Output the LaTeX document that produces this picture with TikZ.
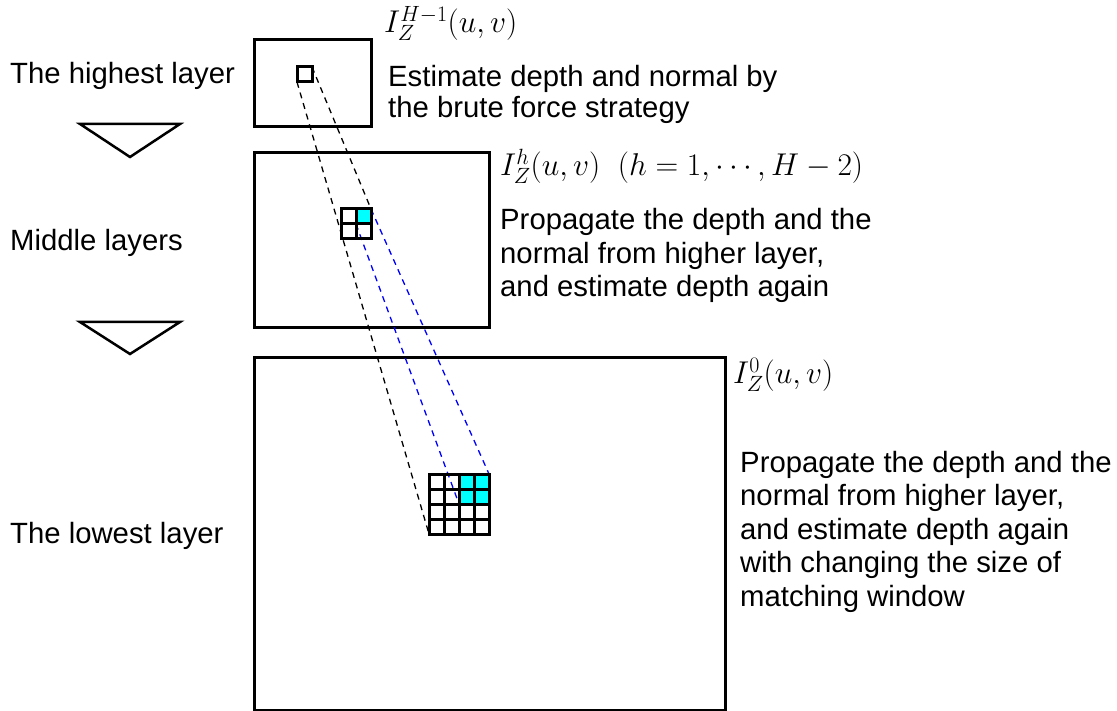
\documentclass[tikz,border=0pt]{standalone}
\usepackage{fix-cm}
\usepackage{fontspec}
\setmainfont{Liberation Sans}
\usetikzlibrary{calc}
\definecolor{cellcyan}{RGB}{0,255,255}
\begin{document}
\begin{tikzpicture}[x=1pt,y=-1pt,
  frame/.style={draw,line width=3pt,inner sep=0pt,anchor=north west},
  lbl/.style={font=\fontsize{29.3}{33.6}\selectfont,inner sep=0pt,anchor=base west,align=left},
  mlbl/.style={font=\fontsize{31.5}{36}\selectfont,inner sep=0pt,anchor=base west},
  cellgrid/.style={draw,line width=3pt},
  proj/.style={dash pattern=on 6pt off 5pt,line width=1.3pt},
  tri/.style={draw,line width=2.5pt,line join=miter}]
\useasboundingbox (0,0) rectangle (1117,711);
% layer frames
\node[frame,minimum width=117pt,minimum height=87pt] (top) at (253,38) {};
\node[frame,minimum width=235pt,minimum height=175pt] (mid) at (253,151) {};
\node[frame,minimum width=471pt,minimum height=353pt] (low) at (253,356) {};
% triangles
\coordinate (t1a) at (80,124); \coordinate (t1b) at (180,124); \coordinate (t1c) at (130,157);
\coordinate (t2a) at (80,322); \coordinate (t2b) at (180,322); \coordinate (t2c) at (130,354);
\draw[tri] (t1a) -- (t1b) -- (t1c) -- cycle;
\draw[tri] (t2a) -- (t2b) -- (t2c) -- cycle;
% cells
\coordinate (tsTL) at (297,67); \coordinate (tsBR) at (312,82);
\coordinate (tsBL) at (297,82); \coordinate (tsTR) at (312,67);
\coordinate (mgTL) at (341,209); \coordinate (mgBR) at (371,239);
\coordinate (mgTR) at (371,209); \coordinate (mcBL) at (356,224);
\coordinate (lgTL) at (429,474); \coordinate (lgBR) at (489,534);
\coordinate (lgTR) at (489,474); \coordinate (lgBL) at (429,534);
\coordinate (lcBL) at (459,504);
\fill[cellcyan] (356,209) rectangle (371,224);
\fill[cellcyan] (459,474) rectangle (489,504);
% projection lines
\draw[proj,black] (tsBL) -- (lgBL);
\draw[proj,black] (tsTR) -- (mgTR);
\draw[proj,blue] (mgTR) -- (lgTR);
\draw[proj,blue] (mcBL) -- (lcBL);
% grids
\draw[cellgrid] (tsTL) rectangle (tsBR);
\draw[cellgrid] (mgTL) rectangle (mgBR);
\draw[cellgrid] ($(mgTL)+(15,0)$) -- ($(mgTL)+(15,30)$);
\draw[cellgrid] ($(mgTL)+(0,15)$) -- ($(mgTL)+(30,15)$);
\draw[cellgrid] (lgTL) rectangle (lgBR);
\foreach \k in {15,30,45}{
  \draw[cellgrid] ($(lgTL)+(\k,0)$) -- ($(lgTL)+(\k,60)$);
  \draw[cellgrid] ($(lgTL)+(0,\k)$) -- ($(lgTL)+(60,\k)$);
}
% labels
\node[lbl] (lh) at (10,84) {The highest layer};
\node[lbl] (lm) at (10,251) {Middle layers};
\node[lbl] (ll) at (10,543) {The lowest layer};
\node[lbl,font=\fontsize{29.3}{31.5}\selectfont] (dh) at (388,118) {Estimate depth and normal by\\the brute force strategy};
\node[lbl] (dm) at (500,297) {Propagate the depth and the\\normal from higher layer,\\and estimate depth again};
\node[lbl] (dl) at (740,606.5) {Propagate the depth and the\\normal from higher layer,\\and estimate depth again\\with changing the size of\\matching window};
\node[mlbl] (mh) at (384,33) {$I_Z^{H-1}(u,v)$};
\node[mlbl] (mm) at (500,176) {$I_Z^{h}(u,v)\ \ (h=1,\cdots,H-2)$};
\node[mlbl] (ml) at (733,384) {$I_Z^{0}(u,v)$};
\end{tikzpicture}
\end{document}
